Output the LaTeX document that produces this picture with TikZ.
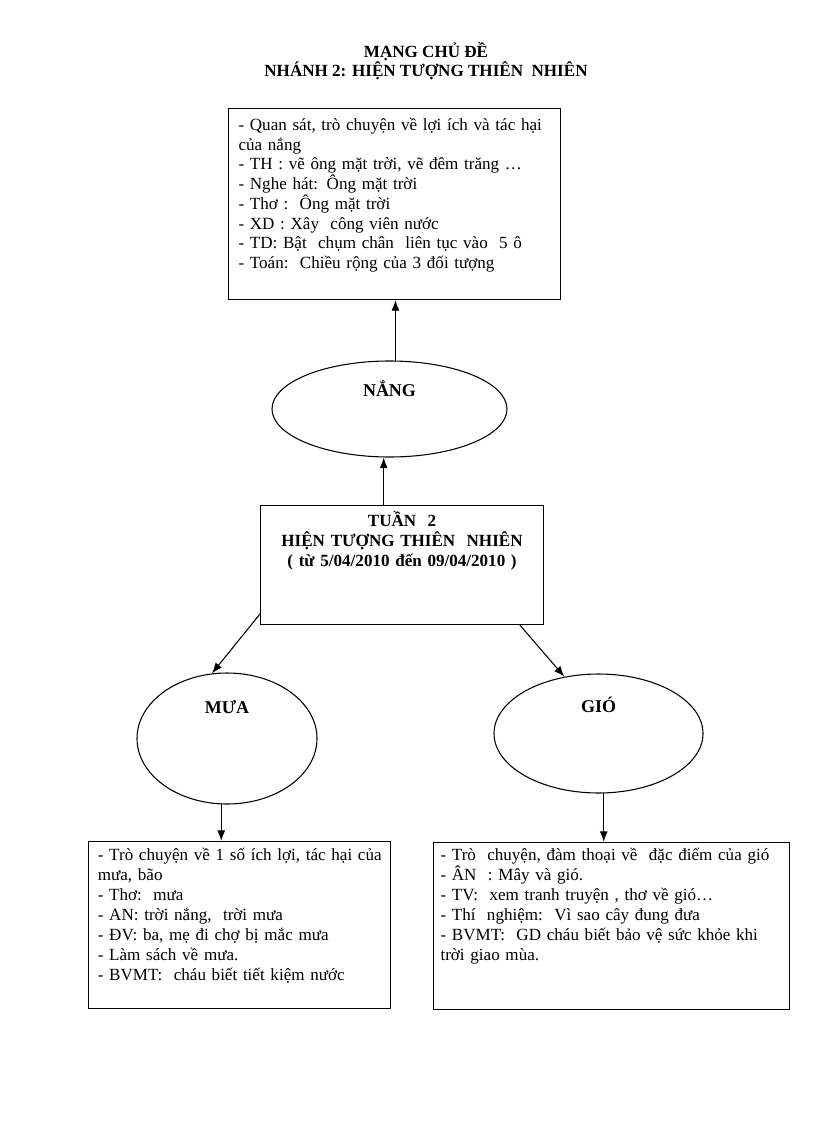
\documentclass[tikz,border=0pt]{standalone}
\usepackage{fontspec}
\setmainfont{Liberation Serif}
\usetikzlibrary{shapes.geometric,arrows.meta}
\begin{document}
\begin{tikzpicture}[x=0.75pt,y=-0.75pt,>={Latex[length=8pt,width=6pt]},line width=0.8pt,
		listbox/.style={draw,rectangle,anchor=north west,align=left,inner ysep=3pt,font=\fontsize{12.8}{15}\selectfont},
		weekbox/.style={draw,rectangle,anchor=north west,align=center,inner ysep=3pt,inner xsep=5pt,font=\bfseries\fontsize{12.8}{15}\selectfont},
		topic/.style={draw,ellipse,inner sep=0pt,text height=10pt,font=\bfseries\fontsize{13.5}{16}\selectfont}]
			\path[use as bounding box,fill=white] (0,0) rectangle (816,1123);

			% tieu de
			\node (title) at (426,61)[align=center,inner sep=0pt,font=\bfseries\fontsize{12.8}{14.3}\selectfont]{MẠNG CHỦ ĐỀ\\NHÁNH 2: HIỆN TƯỢNG THIÊN\ \ NHIÊN};

			% nang
			\node (topbox) at (228,108)[listbox,inner xsep=7.5pt,text width=234pt,text height=13.5pt,text depth=123.75pt,font=\fontsize{12.8}{14.8}\selectfont]{- Quan sát, trò chuyện về lợi ích và tác hại\\của nắng\\- TH : vẽ ông mặt trời, vẽ đêm trăng …\\- Nghe hát: Ông mặt trời\\- Thơ :\ \ Ông mặt trời\\- XD : Xây\ \ công viên nước\\- TD: Bật\ \ chụm chân\ \ liên tục vào\ \ 5 ô\\- Toán:\ \ Chiều rộng của 3 đối tượng};
			\node (nang) at (389.5,409)[topic,minimum width=176.25pt,minimum height=72pt,text depth=29.5pt]{NẮNG};

			% tuan 2
			\node (tuan) at (260,505)[weekbox,text width=202.25pt,text height=12.75pt,text depth=70.5pt]{TUẦN\ \ 2\\HIỆN TƯỢNG THIÊN\ \ NHIÊN\\( từ 5/04/2010 đến 09/04/2010 )};

			% mua, gio
			\node (mua) at (227,738.5)[topic,minimum width=135pt,minimum height=98.25pt,text depth=48.25pt]{MƯA};
			\node (gio) at (598.5,733.5)[topic,minimum width=156.75pt,minimum height=89.25pt,text depth=42.25pt]{GIÓ};

			\node (muabox) at (88,841)[listbox,inner xsep=7pt,text width=212.5pt,text height=11.25pt,text depth=108pt]{\mbox{- Trò chuyện về 1 số ích lợi, tác hại của}\\mưa, bão\\- Thơ:\ \ mưa\\- AN: trời nắng,\ \ trời mưa\\- ĐV: ba, mẹ đi chợ bị mắc mưa\\- Làm sách về mưa.\\- BVMT:\ \ cháu biết tiết kiệm nước};
			\node (giobox) at (433,842)[listbox,inner xsep=5.25pt,text width=256.5pt,text height=10.5pt,text depth=108.75pt]{- Trò\ \ chuyện, đàm thoại về\ \ đặc điểm của gió\\- ÂN\ \ : Mây và gió.\\- TV:\ \ xem tranh truyện , thơ về gió…\\- Thí\ \ nghiệm:\ \ Vì sao cây đung đưa\\- BVMT:\ \ GD cháu biết bảo vệ sức khỏe khi\\trời giao mùa.};

			% mui ten
			\draw[->] (nang.83) -- (nang.83 |- topbox.south);
			\draw[->] (tuan.107) -- (tuan.107 |- nang.south);
			\draw[->] (tuan.199) -- (mua.103);
			\draw[->] (tuan.-27) -- (gio.121);
			\draw[->] (mua.-95) -- (mua.-95 |- muabox.north);
			\draw[->] (gio.-85) -- (gio.-85 |- giobox.north);
		\end{tikzpicture}
\end{document}
